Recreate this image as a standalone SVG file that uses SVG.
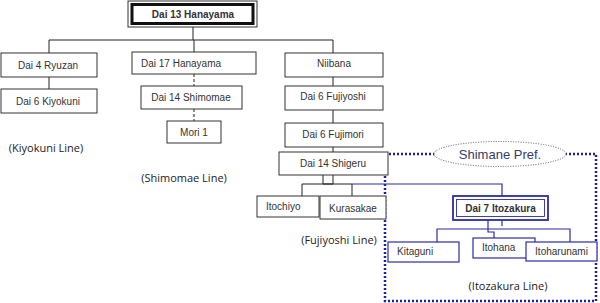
<svg xmlns="http://www.w3.org/2000/svg" width="600" height="303" viewBox="0 0 600 303">
<style>
.box{fill:#fff;stroke:#333;stroke-width:1}
.t{font-family:"Liberation Sans",Arial,sans-serif;font-size:10px;fill:#333}
.c{text-anchor:middle}
.lbl{font-family:"Open Sans","Noto Sans",sans-serif;font-size:11px;fill:#222;text-anchor:middle}
.k{fill:none;stroke:#222;stroke-width:1}
.b{fill:none;stroke:#2b2ba8;stroke-width:1.2}
.bbox{fill:#fff;stroke:#2b2ba8;stroke-width:1.2}
</style>
<rect width="600" height="303" fill="#fff"/>
<g id="shimane-region">
<rect x="385" y="154" width="211" height="147" fill="none" stroke="#1f1fa8" stroke-width="2.5" stroke-dasharray="2 2"/>
<ellipse cx="500" cy="154" rx="66" ry="12.5" fill="#fff" stroke="#555588" stroke-width="1" stroke-dasharray="1 1.5"/>
<text x="500" y="158.5" class="c" font-family="Liberation Sans,Arial,sans-serif" font-size="13" fill="#3a3a6a">Shimane Pref.</text>
</g>
<g id="connectors">
<path class="k" d="M193,27V40M49,40H333M49,40V53M194,40V52M333,40V53M49,77V89"/>
<path class="k" d="M194,74V86M194,109V121" stroke-dasharray="3 2"/>
<path class="k" d="M333,77V86M333,110V123M333,147V152"/>
<path class="k" d="M323,175V184H333V175M302,196V184H352V196"/>
<path class="b" d="M352,184H502V196"/>
<path class="b" d="M502,220V226" stroke-width="2.5"/>
<path class="b" d="M488,220V232H494V238"/>
<path class="b" d="M437,242V229H570V242"/>
</g>
<g id="dai13-hanayama">
<rect x="128" y="1" width="129" height="26" fill="#fff" stroke="#333" stroke-width="1"/>
<rect x="132" y="4.5" width="121" height="19" fill="#fff" stroke="#111" stroke-width="3"/>
<text x="193" y="18" class="t c" font-weight="bold" fill="#222">Dai 13 Hanayama</text>
</g>
<g id="dai4-ryuzan"><rect class="box" x="1" y="53" width="96" height="24"/><text x="48" y="69" class="t c">Dai 4 Ryuzan</text></g>
<g id="dai6-kiyokuni"><rect class="box" x="1" y="89" width="96" height="24"/><text x="48" y="104.5" class="t c">Dai 6 Kiyokuni</text></g>
<g id="dai17-hanayama"><rect class="box" x="132" y="52" width="124" height="22"/><text x="141" y="67" class="t">Dai 17 Hanayama</text></g>
<g id="dai14-shimomae"><rect class="box" x="141" y="86" width="101" height="23"/><text x="191" y="101" class="t c">Dai 14 Shimomae</text></g>
<g id="mori1"><rect class="box" x="167" y="121" width="54" height="22"/><text x="194" y="136" class="t c">Mori 1</text></g>
<g id="niibana"><rect class="box" x="285" y="53" width="98" height="24"/><text x="334" y="67" class="t c">Niibana</text></g>
<g id="dai6-fujiyoshi"><rect class="box" x="285" y="86" width="98" height="24"/><text x="333" y="100" class="t c">Dai 6 Fujiyoshi</text></g>
<g id="dai6-fujimori"><rect class="box" x="285" y="123" width="98" height="24"/><text x="333" y="138" class="t c">Dai 6 Fujimori</text></g>
<g id="dai14-shigeru"><rect class="box" x="279" y="152" width="109" height="23"/><text x="333" y="167" class="t c">Dai 14 Shigeru</text></g>
<g id="itochiyo"><rect class="box" x="257" y="196" width="62" height="21"/><text x="266" y="210" class="t">Itochiyo</text></g>
<g id="kurasakae"><rect class="box" x="320" y="196" width="66" height="23"/><text x="353" y="212" class="t c">Kurasakae</text></g>
<g id="dai7-itozakura">
<rect x="453" y="196" width="95" height="24" fill="#fff" stroke="#2b2ba8" stroke-width="1.8"/>
<rect x="456.5" y="199.5" width="88" height="17" fill="none" stroke="#2b2ba8" stroke-width="0.9"/>
<text x="500.5" y="212" class="t c" font-weight="bold" fill="#1a1a55">Dai 7 Itozakura</text>
</g>
<g id="kitaguni"><rect class="bbox" x="388" y="242" width="71" height="20"/><text x="397" y="255" class="t" fill="#1a1a55">Kitaguni</text></g>
<g id="itohana"><rect class="bbox" x="473" y="238" width="62" height="20"/><text x="482" y="251" class="t" fill="#1a1a55">Itohana</text></g>
<g id="itoharunami"><rect class="bbox" x="526" y="242" width="71" height="19"/><text x="561.5" y="255" class="t c" fill="#1a1a55">Itoharunami</text></g>
<g id="labels">
<text x="46" y="152" class="lbl">(Kiyokuni Line)</text>
<text x="184" y="182" class="lbl">(Shimomae Line)</text>
<text x="339" y="244" class="lbl">(Fujiyoshi Line)</text>
<text x="508" y="290" class="lbl" fill="#333366">(Itozakura Line)</text>
</g>
</svg>
